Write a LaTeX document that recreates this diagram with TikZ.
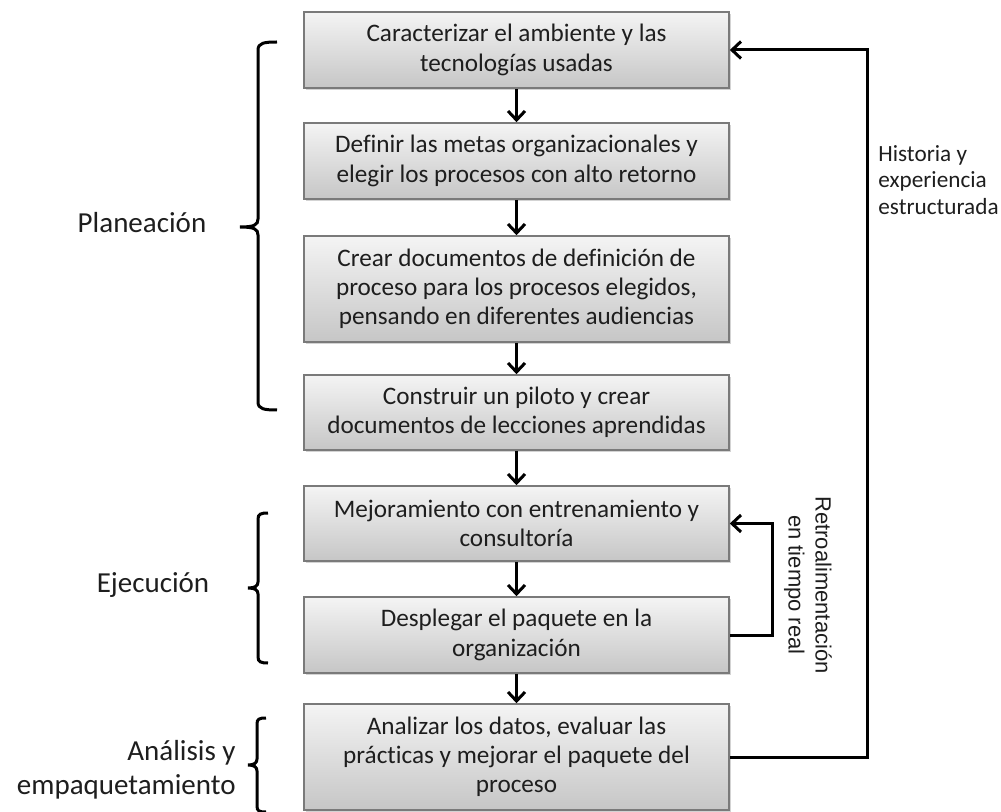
\documentclass[tikz,border=0pt]{standalone}
\usepackage{fontspec}
\setmainfont{Carlito}[Ligatures={NoCommon}]
\newfontfamily\retrofont{Liberation Sans}
\usetikzlibrary{arrows.meta,shadows}
\definecolor{ink}{HTML}{1E1E1E}
\definecolor{boxline}{HTML}{7A7A7A}
\definecolor{boxtop}{HTML}{F4F4F4}
\definecolor{boxbot}{HTML}{C6C6C6}
\begin{document}
\begin{tikzpicture}[x=0.5pt,y=-0.5pt,
  stepbox/.style={draw=boxline, line width=0.8pt, top color=boxtop, bottom color=boxbot,
    minimum width=212.5pt, align=center, inner sep=0pt, text=ink,
    font=\fontsize{12.6}{14.6}\selectfont,
    drop shadow={shadow xshift=1.2pt, shadow yshift=-1.2pt, opacity=0.35}},
  flow/.style={line width=1.5pt, draw=black, -{Straight Barb[length=4.5pt,width=8.5pt]}},
  phase/.style={line width=1.5pt, draw=black},
  phaselabel/.style={text=ink, inner sep=0pt, font=\fontsize{14.5}{17}\selectfont},
  sidenote/.style={text=ink, inner sep=0pt, font=\fontsize{11.6}{13.2}\selectfont, align=left},
  retronote/.style={text=ink, inner sep=0pt, font=\retrofont\fontsize{11}{13.5}\selectfont, align=center}]
\useasboundingbox (0,0) rectangle (1001,812);

% process steps
\node[stepbox, minimum height=38pt] (b1) at (516.5,50) {Caracterizar el ambiente y las\\tecnologías usadas};
\node[stepbox, minimum height=38pt] (b2) at (516.5,161) {Definir las metas organizacionales y\\elegir los procesos con alto retorno};
\node[stepbox, minimum height=53pt] (b3) at (516.5,289) {Crear documentos de definición de\\proceso para los procesos elegidos,\\pensando en diferentes audiencias};
\node[stepbox, minimum height=37.5pt] (b4) at (516.5,412.5) {Construir un piloto y crear\\documentos de lecciones aprendidas};
\node[stepbox, minimum height=37.5pt] (b5) at (516.5,523.5) {Mejoramiento con entrenamiento y\\consultoría};
\node[stepbox, minimum height=38pt] (b6) at (516.5,635) {Desplegar el paquete en la\\organización};
\node[stepbox, minimum height=53pt] (b7) at (516.5,757) {Analizar los datos, evaluar las\\prácticas y mejorar el paquete del\\proceso};

% main flow
\draw[flow] (b1) -- (b2);
\draw[flow] (b2) -- (b3);
\draw[flow] (b3) -- (b4);
\draw[flow] (b4) -- (b5);
\draw[flow] (b5) -- (b6);
\draw[flow] (b6) -- (b7);

% feedback loops
\coordinate (bigloop) at (867,50);
\coordinate (smallloop) at (772,523.5);
\draw[flow] (b7.east) -| (bigloop) -- (b1.east);
\draw[flow] (b6.east) -| (smallloop) -- (b5.east);

\node[sidenote, anchor=west] (hist) at (878,180) {Historia y\\experiencia\\estructurada};
\node[retronote, rotate=-90] (retro) at (808,585) {Retroalimentación\\en tiempo real};

% phase brackets
\draw[phase] (277,42) .. controls (264,42) and (258,43) .. (258,50) -- (258,219)
  .. controls (258,225) and (254,227) .. (240,227)
  .. controls (254,227) and (258,229) .. (258,235) -- (258,402)
  .. controls (258,409) and (264,410) .. (277,410);
\draw[phase] (268,513) .. controls (261,513) and (258,514) .. (258,519) -- (258,582)
  .. controls (258,586) and (255,588) .. (248,588)
  .. controls (255,588) and (258,590) .. (258,594) -- (258,657)
  .. controls (258,662) and (261,663) .. (268,663);
\draw[phase] (266,718) .. controls (259,718) and (257,719) .. (257,724) -- (257,759)
  .. controls (257,763) and (254,765) .. (248,765)
  .. controls (254,765) and (257,767) .. (257,771) -- (257,806)
  .. controls (257,811) and (259,812) .. (266,812);

\node[phaselabel] (plan) at (142,223) {Planeación};
\node[phaselabel] (ejec) at (153,585) {Ejecución};
\node[phaselabel, anchor=east, align=right] (anal) at (236,770) {Análisis y\\empaquetamiento};
\end{tikzpicture}
\end{document}
